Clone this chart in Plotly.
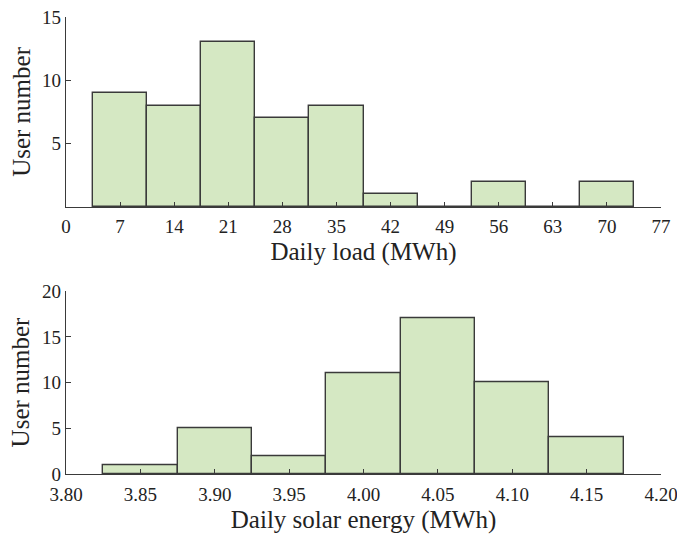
import plotly.graph_objects as go
from plotly.subplots import make_subplots

load_centers = [7, 14, 21, 28, 35, 42, 49, 56, 63, 70]
load_counts = [9, 8, 13, 7, 8, 1, 0, 2, 0, 2]
load_ticks = [0, 7, 14, 21, 28, 35, 42, 49, 56, 63, 70, 77]

solar_centers = [3.85, 3.90, 3.95, 4.00, 4.05, 4.10, 4.15]
solar_counts = [1, 5, 2, 11, 17, 10, 4]
solar_ticks = [3.80, 3.85, 3.90, 3.95, 4.00, 4.05, 4.10, 4.15, 4.20]

FILL = "#d5e8c3"
EDGE = "#3a3a3a"
FONT = "Liberation Serif, Times New Roman, serif"

fig = make_subplots(rows=2, cols=1)
fig.add_trace(go.Bar(x=load_centers, y=load_counts, width=[7]*len(load_centers),
                     marker=dict(color=FILL, line=dict(color=EDGE, width=1.4))), row=1, col=1)
fig.add_trace(go.Bar(x=solar_centers, y=solar_counts, width=[0.05]*len(solar_centers),
                     marker=dict(color=FILL, line=dict(color=EDGE, width=1.4))), row=2, col=1)

axis_common = dict(showline=True, linecolor=EDGE, linewidth=1.4, ticks="inside",
                   ticklen=5, tickcolor=EDGE, tickwidth=1.2, showgrid=False, zeroline=False,
                   tickfont=dict(family=FONT, size=19, color="#222"), mirror=False,
                   automargin=False, ticklabeloverflow="allow")

fig.update_xaxes(**axis_common)
fig.update_yaxes(**axis_common)

TFONT = dict(family=FONT, size=25, color="#222")
fig.update_xaxes(range=[0, 77], tickvals=load_ticks, ticktext=[str(t) for t in load_ticks],
                 title=dict(text="Daily load (MWh)", font=TFONT, standoff=6),
                 ticklabelstandoff=2, row=1, col=1)
fig.update_yaxes(range=[0, 15], tickvals=[5, 10, 15],
                 domain=[0.584, 1.0], row=1, col=1)
fig.update_xaxes(range=[3.80, 4.20], tickvals=solar_ticks, ticktext=[f"{t:.2f}" for t in solar_ticks],
                 title=dict(text="Daily solar energy (MWh)", font=TFONT, standoff=6),
                 ticklabelstandoff=3, row=2, col=1)
fig.update_yaxes(range=[0, 20], tickvals=[0, 5, 10, 15, 20],
                 domain=[0.0, 0.400], row=2, col=1)

for yref in ["y domain", "y2 domain"]:
    fig.add_annotation(text="User number", textangle=-90, font=TFONT, showarrow=False,
                       xref="paper", yref=yref, x=-0.076, y=0.5,
                       xanchor="center", yanchor="middle")

# page body has an 8px default margin, so the figure is a bit smaller than the window
fig.update_layout(width=677, height=534, showlegend=False, bargap=0,
                  paper_bgcolor="white", plot_bgcolor="white",
                  margin=dict(l=58, r=24, t=9, b=68, autoexpand=False),
                  font=dict(family=FONT, color="#222"))

fig.write_html("out.html")
